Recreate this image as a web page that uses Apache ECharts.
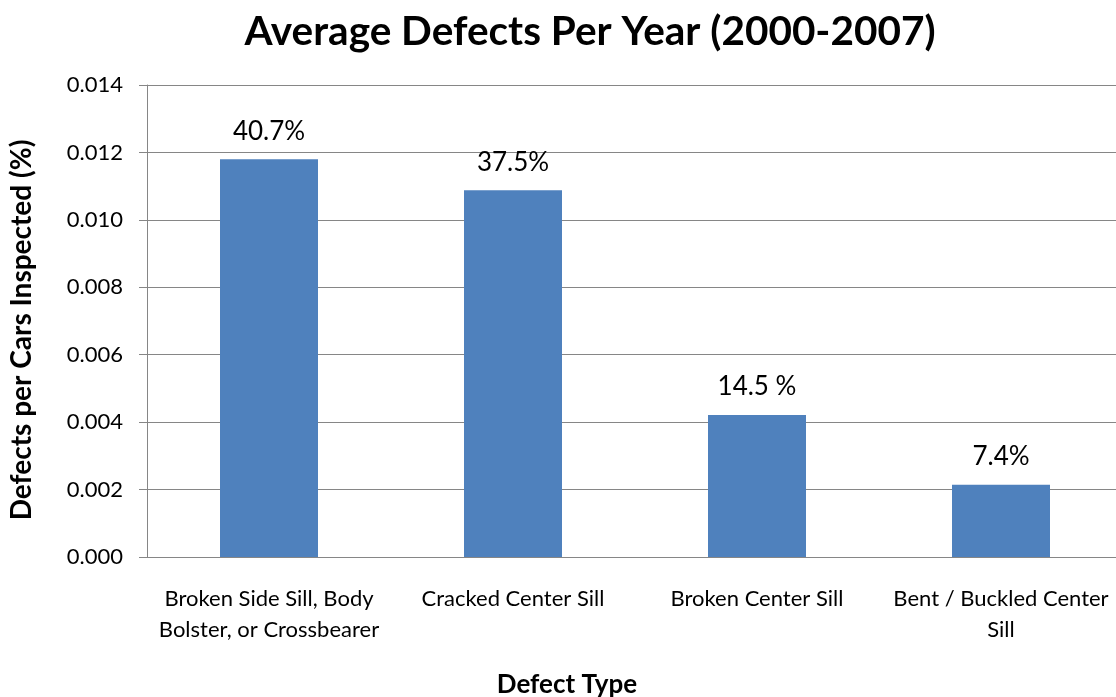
<!DOCTYPE html>
<html>
<head>
<meta charset="utf-8">
<script src="https://cdn.jsdelivr.net/npm/echarts@6/dist/echarts.min.js"></script>
<style>html,body{margin:0;padding:0;background:#fff;}#c{width:1116px;height:697px;}</style>
</head>
<body>
<div id="c"></div>
<script>
var categories = ['Broken Side Sill, Body\nBolster, or Crossbearer', 'Cracked Center Sill', 'Broken Center Sill', 'Bent / Buckled Center\nSill'];
var values = [0.0118, 0.01088, 0.00421, 0.00214];
var barLabels = ['40.7%', '37.5%', '14.5 %', '7.4%'];
var yTicks = { min: 0, max: 0.014, interval: 0.002 };

var FONT = 'Lato';
var chart = echarts.init(document.getElementById('c'));
chart.setOption({
  animation: false,
  title: {
    text: 'Average Defects Per Year (2000-2007)',
    left: 585, top: 6, textAlign: 'center',
    textStyle: { fontFamily: FONT, fontSize: 40.5, fontWeight: 'bold', color: '#000' }
  },
  grid: { left: 147, top: 85, width: 976, height: 472, containLabel: false, outerBoundsMode: 'none' },
  xAxis: {
    type: 'category',
    data: categories,
    name: 'Defect Type',
    nameLocation: 'middle',
    nameGap: 115,
    nameTextStyle: { fontFamily: FONT, fontSize: 26, fontWeight: 'bold', color: '#000', padding: [0, 0, 0, -136] },
    axisLine: { lineStyle: { color: '#868686', width: 1 } },
    axisTick: { show: false },
    axisLabel: { interval: 0, fontFamily: FONT, fontSize: 22, color: '#000', margin: 26, lineHeight: 31 }
  },
  yAxis: {
    type: 'value',
    min: yTicks.min, max: yTicks.max, interval: yTicks.interval,
    name: 'Defects per Cars Inspected (%)',
    nameLocation: 'middle',
    nameGap: 111,
    nameTextStyle: { fontFamily: FONT, fontSize: 28, fontWeight: 'bold', color: '#000', padding: [0, 0, 0, -18] },
    axisLine: { show: true, lineStyle: { color: '#868686', width: 1 } },
    axisTick: { show: true, length: 8, lineStyle: { color: '#868686' } },
    splitLine: { lineStyle: { color: '#868686', width: 1 } },
    axisLabel: { fontFamily: FONT, fontSize: 22, color: '#000', margin: 24,
      formatter: function (v) { return v.toFixed(3); } }
  },
  series: [{
    type: 'bar',
    data: values,
    barWidth: 98,
    itemStyle: { color: '#4F81BD' },
    label: {
      show: true, position: 'top', distance: 15,
      fontFamily: FONT, fontSize: 26, color: '#000',
      formatter: function (p) { return barLabels[p.dataIndex]; }
    }
  }]
});
</script>
</body>
</html>
